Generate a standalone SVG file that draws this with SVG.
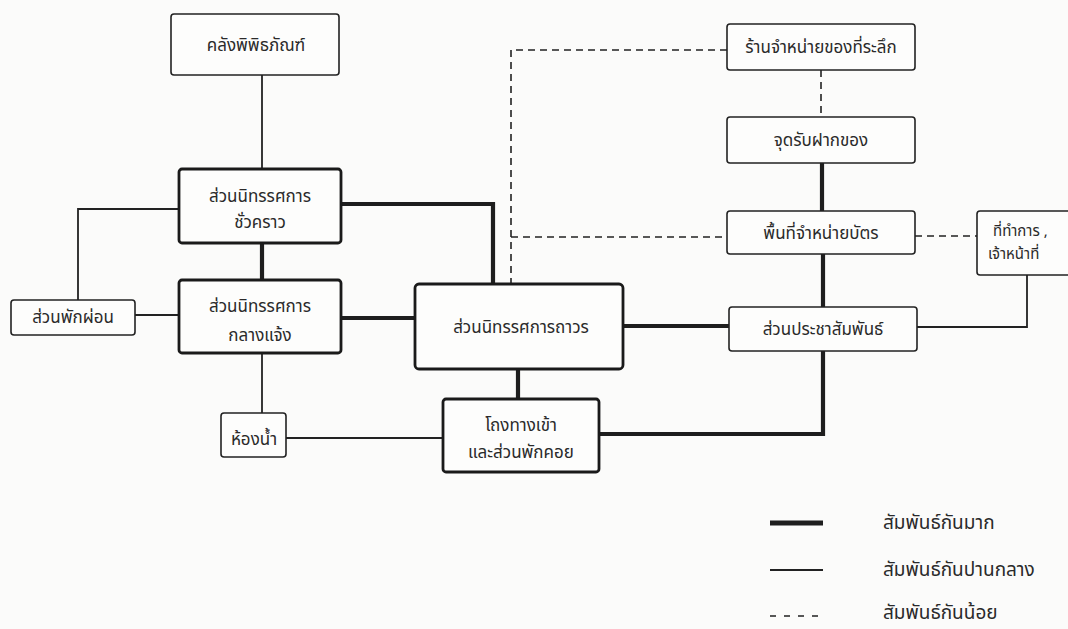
<svg xmlns="http://www.w3.org/2000/svg" width="1068" height="629" viewBox="0 0 1068 629">
<style>
.bg{fill:#fbfbfa}
.box{fill:#fdfdfc;stroke:#222;stroke-width:1.6}
.boxb{fill:#fdfdfc;stroke:#1a1a1a;stroke-width:2.8}
.t{font-family:"Noto Sans Thai","Noto Sans","DejaVu Sans",sans-serif;font-size:17px;fill:#2a2a2a;text-anchor:middle}
.ts{font-family:"Noto Sans Thai","Noto Sans","DejaVu Sans",sans-serif;font-size:15px;fill:#2a2a2a}
.tl{font-family:"Noto Sans Thai","Noto Sans","DejaVu Sans",sans-serif;font-size:19px;fill:#2a2a2a}
.med{fill:none;stroke:#222;stroke-width:1.8}
.thk{fill:none;stroke:#1e1e1e;stroke-width:4.2}
.dsh{fill:none;stroke:#222;stroke-width:1.6;stroke-dasharray:7 5}
</style>
<rect class="bg" x="0" y="0" width="1068" height="629"/>
<g id="connectors">
<path class="med" d="M262 75V169"/>
<path class="med" d="M179 209H78V300"/>
<path class="med" d="M135 315H179"/>
<path class="med" d="M262 353V413"/>
<path class="med" d="M286 438H443"/>
<path class="med" d="M917 327H1027V275"/>
<path class="thk" d="M341 204H493V284"/>
<path class="thk" d="M262 243V280"/>
<path class="thk" d="M341 318H415"/>
<path class="thk" d="M623 326H729"/>
<path class="thk" d="M518 369V399"/>
<path class="thk" d="M599 434H823V351"/>
<path class="thk" d="M822 163V211"/>
<path class="thk" d="M823 254V307"/>
<path class="dsh" d="M727 50H511V284"/>
<path class="dsh" d="M511 237H727"/>
<path class="dsh" d="M821 70V117"/>
<path class="dsh" d="M915 236H977"/>
</g>
<g id="n-storage"><rect class="box" x="171" y="14" width="168" height="61" rx="3"/><text class="t" x="256" y="51">คลังพิพิธภัณฑ์</text></g>
<g id="n-temp"><rect class="boxb" x="179" y="169" width="162" height="74" rx="3"/><text class="t" x="260" y="202">ส่วนนิทรรศการ</text><text class="t" x="260" y="228">ชั่วคราว</text></g>
<g id="n-rest"><rect class="box" x="11" y="300" width="124" height="35" rx="3"/><text class="t" x="73" y="323">ส่วนพักผ่อน</text></g>
<g id="n-outdoor"><rect class="boxb" x="179" y="280" width="162" height="73" rx="3"/><text class="t" x="260" y="312">ส่วนนิทรรศการ</text><text class="t" x="260" y="341">กลางแจ้ง</text></g>
<g id="n-toilet"><rect class="box" x="221" y="413" width="65" height="44" rx="3"/><text class="t" x="254" y="445">ห้องน้ำ</text></g>
<g id="n-permanent"><rect class="boxb" x="415" y="284" width="208" height="85" rx="4"/><text class="t" x="521" y="333">ส่วนนิทรรศการถาวร</text></g>
<g id="n-lobby"><rect class="boxb" x="443" y="399" width="156" height="73" rx="3"/><text class="t" x="521" y="431">โถงทางเข้า</text><text class="t" x="521" y="458">และส่วนพักคอย</text></g>
<g id="n-souvenir"><rect class="box" x="727" y="24" width="188" height="46" rx="3"/><text class="t" x="821" y="53">ร้านจำหน่ายของที่ระลึก</text></g>
<g id="n-cloak"><rect class="box" x="727" y="117" width="188" height="46" rx="3"/><text class="t" x="821" y="146">จุดรับฝากของ</text></g>
<g id="n-ticket"><rect class="box" x="727" y="211" width="188" height="43" rx="3"/><text class="t" x="821" y="239">พื้นที่จำหน่ายบัตร</text></g>
<g id="n-pr"><rect class="box" x="729" y="307" width="188" height="44" rx="3"/><text class="t" x="823" y="335">ส่วนประชาสัมพันธ์</text></g>
<g id="n-office"><rect class="box" x="977" y="211" width="100" height="64" rx="3"/><text class="ts" x="993" y="236">ที่ทำการ ,</text><text class="ts" x="988" y="259">เจ้าหน้าที่</text></g>
<g id="legend">
<path class="thk" d="M770 523H823" style="stroke-width:5"/>
<path class="med" d="M770 570H823"/>
<path class="dsh" d="M770 616H823" style="stroke-dasharray:6 8"/>
<text class="tl" x="883" y="529">สัมพันธ์กันมาก</text>
<text class="tl" x="883" y="576">สัมพันธ์กันปานกลาง</text>
<text class="tl" x="883" y="619">สัมพันธ์กันน้อย</text>
</g>
</svg>
